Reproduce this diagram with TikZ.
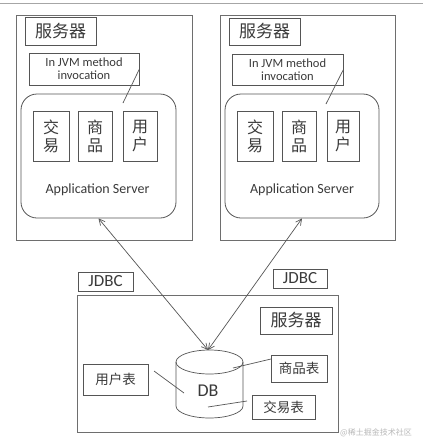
\documentclass[tikz,border=0pt]{standalone}
\usepackage{fontspec}
\setmainfont{Carlito}
\newfontfamily\cjk{Noto Sans CJK SC}
\usetikzlibrary{arrows.meta}
\definecolor{ln}{HTML}{555555}
\definecolor{tx}{HTML}{3A3A3A}
\tikzset{
  box/.style={draw=ln, line width=0.8pt, inner sep=0pt, text=tx},
  outer/.style={draw=ln!85, line width=0.8pt, inner sep=0pt},
  rbox/.style={draw=ln, line width=0.8pt, rounded corners=16pt, inner sep=0pt},
  conn/.style={draw=ln, line width=0.7pt},
  dart/.style={conn, {Straight Barb[length=6pt,width=6pt]}-{Straight Barb[length=6pt,width=6pt]}},
}
\begin{document}
\begin{tikzpicture}[x=1pt,y=-1pt]
\useasboundingbox (0,0) rectangle (423,442);
\fill[white] (0,0) rectangle (423,442);
\draw[gray!70, line width=0.8pt] (0,3.5) -- (423,3.5);

% ---- left server
\node[outer, minimum width=176pt, minimum height=225pt] (srvL) at (104,127.5) {};
\node[box, minimum width=71pt, minimum height=28pt, font=\cjk\fontsize{17}{20}\selectfont] (labL) at (60.5,31) {服务器};
\node[box, minimum width=110pt, minimum height=32pt, align=center, font=\fontsize{12.5}{13}\selectfont] (jvmL) at (84,69) {In JVM method\\invocation};
\node[rbox, minimum width=155pt, minimum height=124pt] (appL) at (98.5,156) {};
\node[box, minimum width=36pt, minimum height=50pt, align=center, font=\cjk\fontsize{16}{18}\selectfont] (jyL) at (51,136) {交\\易};
\node[box, minimum width=34pt, minimum height=50pt, align=center, font=\cjk\fontsize{16}{18}\selectfont] (spL) at (95,136) {商\\品};
\node[box, minimum width=34pt, minimum height=50pt, align=center, font=\cjk\fontsize{16}{18}\selectfont] (yhL) at (140,136) {用\\户};
\node[text=tx, font=\fontsize{14}{16}\selectfont] (asL) at (97.5,190) {Application Server};
\coordinate (cL) at (123,103);
\draw[conn] (jvmL.east) -- (cL);

% ---- right server
\node[outer, minimum width=175pt, minimum height=225pt] (srvR) at (307.5,127.5) {};
\node[box, minimum width=71pt, minimum height=27pt, font=\cjk\fontsize{17}{20}\selectfont] (labR) at (264.5,31.5) {服务器};
\node[box, minimum width=111pt, minimum height=31pt, align=center, font=\fontsize{12.5}{13}\selectfont] (jvmR) at (287.5,69.5) {In JVM method\\invocation};
\node[rbox, minimum width=154pt, minimum height=124pt] (appR) at (302,156) {};
\node[box, minimum width=36pt, minimum height=50pt, align=center, font=\cjk\fontsize{16}{18}\selectfont] (jyR) at (255,136) {交\\易};
\node[box, minimum width=34pt, minimum height=50pt, align=center, font=\cjk\fontsize{16}{18}\selectfont] (spR) at (299,136) {商\\品};
\node[box, minimum width=32pt, minimum height=50pt, align=center, font=\cjk\fontsize{16}{18}\selectfont] (yhR) at (343,136) {用\\户};
\node[text=tx, font=\fontsize{14}{16}\selectfont] (asR) at (302,190) {Application Server};
\coordinate (cR) at (326,104);
\draw[conn] (jvmR.east) -- (cR);

% ---- JDBC labels
\node[box, minimum width=55pt, minimum height=19pt, font=\fontsize{17}{19}\selectfont] (jdbcL) at (105.5,281.5) {JDBC};
\node[box, minimum width=54pt, minimum height=19pt, font=\fontsize{17}{19}\selectfont] (jdbcR) at (300,278.5) {JDBC};

% ---- DB server
\node[outer, minimum width=261pt, minimum height=137pt] (srvD) at (207.5,363.5) {};
\node[box, minimum width=72pt, minimum height=27pt, font=\cjk\fontsize{17}{20}\selectfont] (labD) at (296,320.5) {服务器};

% cylinder
\draw[conn, fill=white] (209.5,362) ellipse [x radius=33.5, y radius=12];
\draw[conn] (176,362) -- (176,406) arc[start angle=180, end angle=0, x radius=33.5, y radius=12] -- (243,362);
\coordinate (dbtop) at (208,350);
\node[text=tx, font=\fontsize{18}{20}\selectfont] (db) at (208,391) {DB};

\node[box, minimum width=65pt, minimum height=31pt, font=\cjk\fontsize{13.5}{16}\selectfont] (yhb) at (115.5,379.5) {用户表};
\node[box, minimum width=56pt, minimum height=27pt, font=\cjk\fontsize{13.5}{16}\selectfont] (spb) at (299,368.5) {商品表};
\node[box, minimum width=63pt, minimum height=24pt, font=\cjk\fontsize{13.5}{16}\selectfont] (jyb) at (283.5,407) {交易表};
\coordinate (y1) at (154,371);
\coordinate (y2) at (184,393);
\coordinate (s1) at (271,359);
\coordinate (s2) at (233,368);
\coordinate (j1) at (247,401);
\coordinate (j2) at (208,407);
\draw[conn] (y1) -- (y2);
\draw[conn] (s1) -- (s2);
\draw[conn] (j1) -- (j2);

% arrows
\draw[dart] (appL.south) -- (dbtop);
\draw[dart] (appR.south) -- (dbtop);

% watermark
\node[anchor=west, text=gray!55, font=\cjk\fontsize{8}{9}\selectfont, inner sep=0pt] (wm) at (340,433) {@稀土掘金技术社区};
\end{tikzpicture}
\end{document}
